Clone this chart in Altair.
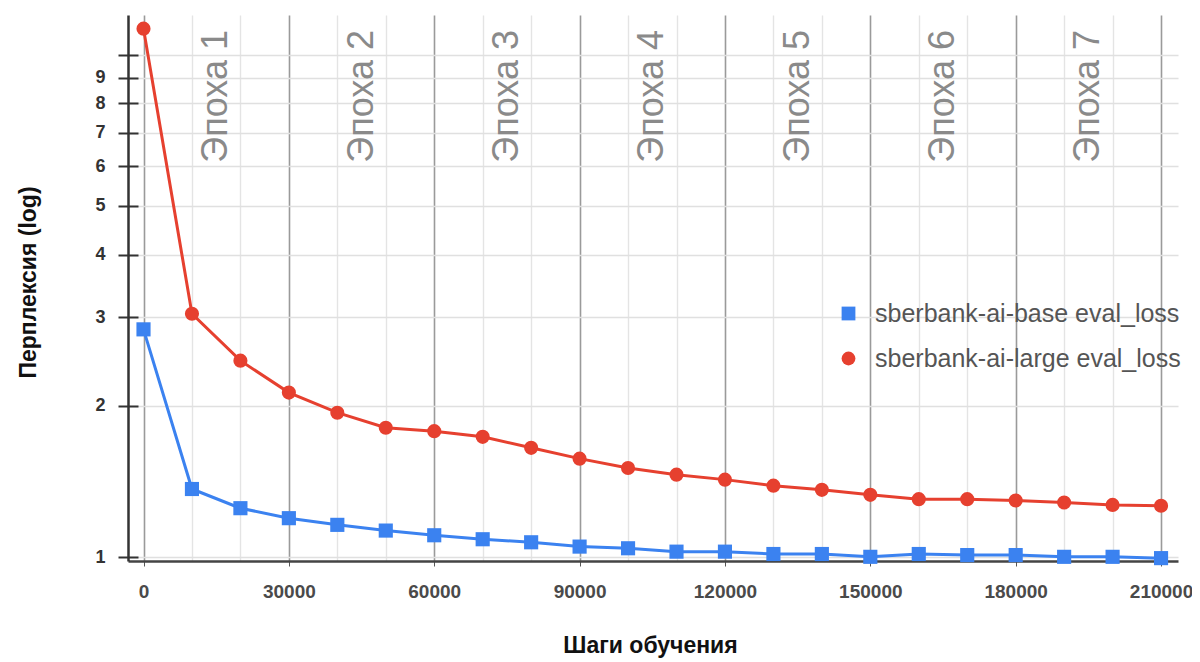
import altair as alt
import pandas as pd

steps = [0, 10000, 20000, 30000, 40000, 50000, 60000, 70000, 80000, 90000, 100000,
         110000, 120000, 130000, 140000, 150000, 160000, 170000, 180000, 190000, 200000, 210000]
base_loss = [2.84, 1.366, 1.251, 1.195, 1.159, 1.129, 1.105, 1.085, 1.070, 1.049, 1.041,
             1.025, 1.025, 1.014, 1.014, 1.001, 1.014, 1.009, 1.009, 1.001, 1.001, 0.995]
large_loss = [11.27, 3.05, 2.46, 2.125, 1.938, 1.809, 1.781, 1.735, 1.650, 1.570, 1.504,
              1.459, 1.426, 1.387, 1.361, 1.330, 1.304, 1.304, 1.296, 1.284, 1.270, 1.265]
series_names = ["sberbank-ai-base eval_loss", "sberbank-ai-large eval_loss"]
series_colors = ["#3b82f0", "#e6402f"]
series_shapes = ["square", "circle"]

epoch_labels = ["Эпоха 1", "Эпоха 2", "Эпоха 3", "Эпоха 4", "Эпоха 5", "Эпоха 6", "Эпоха 7"]
epoch_mid = [15000, 45000, 75000, 105000, 135000, 165000, 195000]
epoch_label_top = [11.2] * 7

x_grid = list(range(0, 210001, 10000))
y_ticks = [1, 2, 3, 4, 5, 6, 7, 8, 9, 10]

df = pd.DataFrame({
    "step": steps * 2,
    "value": base_loss + large_loss,
    "series": [series_names[0]] * len(steps) + [series_names[1]] * len(steps),
})
epochs = pd.DataFrame({"step": epoch_mid, "label": epoch_labels, "value": epoch_label_top})
ticks_df = pd.DataFrame({"tv": y_ticks})

FONT = "Liberation Sans"
x_scale = alt.Scale(domain=[-3200, 213500], nice=False, zero=False)
y_scale = alt.Scale(type="log", domain=[0.982, 12.0], nice=False)
color_scale = alt.Scale(domain=series_names, range=series_colors)
shape_scale = alt.Scale(domain=series_names, range=series_shapes)

x_axis = alt.Axis(
    values=x_grid,
    title="Шаги обучения",
    titleFont=FONT, titleFontSize=23, titleFontWeight="bold", titleColor="#111",
    titleX=522, titleY=84, titleAlign="center", titleBaseline="middle",
    labelExpr="datum.value % 30000 === 0 ? datum.value : ''",
    labelFont=FONT, labelFontSize=19, labelFontWeight="bold", labelColor="#4a4a4a", labelPadding=16,
    labelFlush=False,
    tickSize=5,
    tickColor={"condition": {"test": "datum.value % 30000 === 0", "value": "#555"}, "value": "transparent"},
    domainColor="#444", domainWidth=2.5,
    grid=True,
    gridColor={"condition": {"test": "datum.value % 30000 === 0", "value": "#9a9a9a"}, "value": "#e4e4e4"},
    gridWidth={"condition": {"test": "datum.value % 30000 === 0", "value": 1.6}, "value": 1.4},
)
y_axis = alt.Axis(
    values=y_ticks,
    title="Перплексия (log)",
    titleFont=FONT, titleFontSize=23, titleFontWeight="bold", titleColor="#111",
    titleAngle=270, titleX=-100, titleY=267, titleAlign="center", titleBaseline="middle",
    labelExpr="datum.value < 10 ? datum.value : ''",
    labelFont=FONT, labelFontSize=18, labelFontWeight="bold", labelColor="#333", labelPadding=13,
    tickSize=10, tickColor="#333", tickWidth=2,
    domainColor="#333", domainWidth=2.5,
    grid=True, gridColor="#e0e0e0", gridWidth=1.4,
)

legend = alt.Legend(title=None, orient="none", legendX=708, legendY=286,
                    labelFont=FONT, labelFontSize=25, labelColor="#555", labelLimit=500,
                    symbolSize=190, rowPadding=19, symbolStrokeWidth=0, labelOffset=14)

lines = alt.Chart(df).mark_line(strokeWidth=3).encode(
    x=alt.X("step:Q", scale=x_scale, axis=x_axis),
    y=alt.Y("value:Q", scale=y_scale, axis=y_axis),
    color=alt.Color("series:N", scale=color_scale, legend=legend),
    detail="series:N",
)
points = alt.Chart(df).mark_point(filled=True, size=200, opacity=1).encode(
    x=alt.X("step:Q", scale=x_scale),
    y=alt.Y("value:Q", scale=y_scale, axis=None),
    color=alt.Color("series:N", scale=color_scale, legend=legend),
    shape=alt.Shape("series:N", scale=shape_scale, legend=legend),
)
epoch_text = alt.Chart(epochs).mark_text(
    angle=270, align="right", baseline="middle", font=FONT, fontSize=36, color="#8a8a8a"
).encode(
    x=alt.X("step:Q", scale=x_scale),
    y=alt.Y("value:Q", scale=y_scale, axis=None),
    text="label:N",
)
inner_ticks = alt.Chart(ticks_df).mark_point(opacity=0, size=1).encode(
    y=alt.Y("tv:Q", scale=y_scale,
            axis=alt.Axis(orient="left", offset=-10, values=y_ticks, labels=False, domain=False,
                          grid=False, title=None, tickSize=10, tickColor="#333", tickWidth=2)),
)

chart = alt.layer(lines, points, epoch_text, inner_ticks).resolve_axis(y="independent").properties(
    width=1050, height=546,
    autosize=alt.AutoSizeParams(type="none"),
    padding={"left": 120, "top": 7, "right": 14, "bottom": 101},
    background="white",
).configure_view(strokeWidth=0)

chart.save("out.html", embed_options={"renderer": "svg", "actions": False})
